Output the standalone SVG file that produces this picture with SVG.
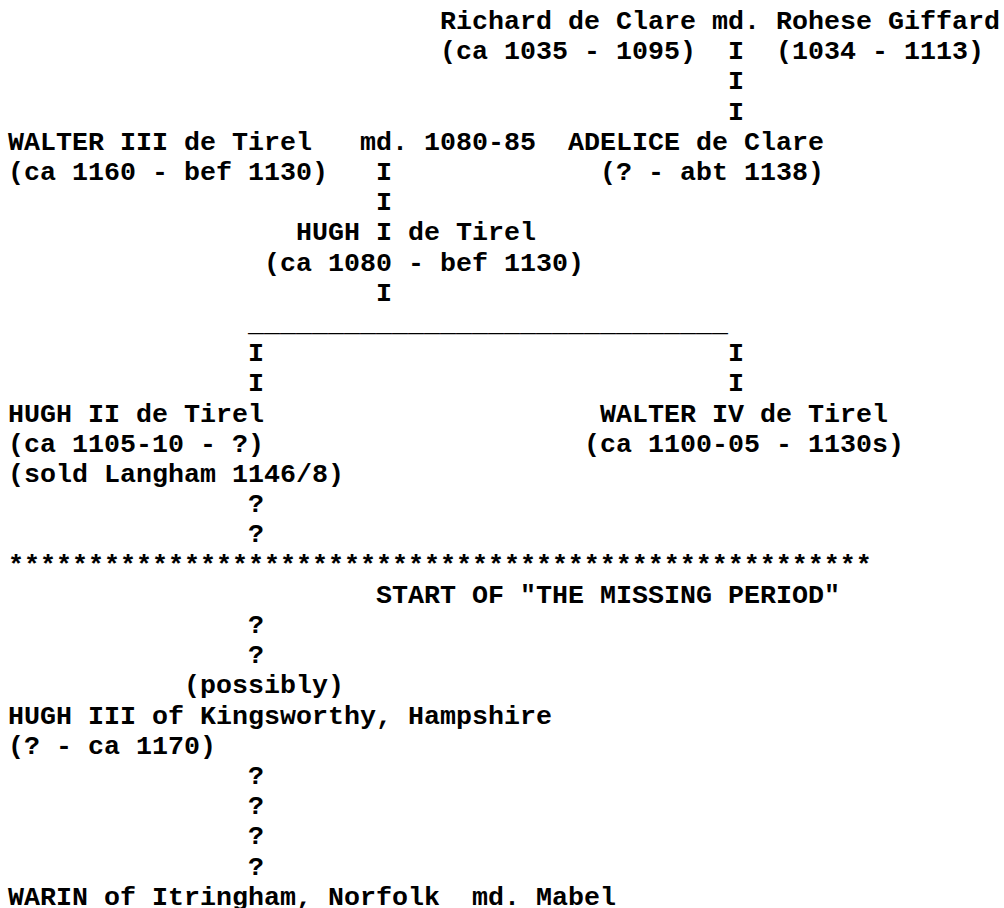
<svg xmlns="http://www.w3.org/2000/svg" width="1004" height="908" viewBox="0 0 1004 908">
<style>
text{font-family:"Liberation Mono","Courier New",monospace;font-weight:bold;font-size:26.6667px;fill:#000;white-space:pre}
</style>
<rect width="1004" height="908" fill="#fff"/>
<g id="richard-rohese">
<text x="440" y="29">Richard de Clare md. Rohese Giffard</text>
<text x="440" y="59.2">(ca 1035 - 1095)</text>
<text x="776" y="59.2">(1034 - 1113)</text>
</g>
<g id="walter-iii">
<text x="8" y="149.8">WALTER III de Tirel</text>
<text x="8" y="180">(ca 1160 - bef 1130)</text>
</g>
<g id="marriage-1080">
<text x="360" y="149.8">md. 1080-85</text>
</g>
<g id="adelice">
<text x="568" y="149.8">ADELICE de Clare</text>
<text x="600" y="180">(? - abt 1138)</text>
</g>
<g id="hugh-i">
<text x="296" y="240.4">HUGH I de Tirel</text>
<text x="264" y="270.6">(ca 1080 - bef 1130)</text>
</g>
<g id="hugh-ii">
<text x="8" y="421.6">HUGH II de Tirel</text>
<text x="8" y="451.8">(ca 1105-10 - ?)</text>
<text x="8" y="482">(sold Langham 1146/8)</text>
</g>
<g id="walter-iv">
<text x="600" y="421.6">WALTER IV de Tirel</text>
<text x="584" y="451.8">(ca 1100-05 - 1130s)</text>
</g>
<g id="missing-period">
<text x="8" y="572.6">******************************************************</text>
<text x="376" y="602.8">START OF "THE MISSING PERIOD"</text>
</g>
<g id="hugh-iii">
<text x="184" y="693.4">(possibly)</text>
<text x="8" y="723.6">HUGH III of Kingsworthy, Hampshire</text>
<text x="8" y="753.8">(? - ca 1170)</text>
</g>
<g id="warin">
<text x="8" y="904.8">WARIN of Itringham, Norfolk</text>
<text x="472" y="904.8">md. Mabel</text>
</g>
<g id="connectors">
<text x="728" y="59.2">I</text>
<text x="728" y="89.4">I</text>
<text x="728" y="119.6">I</text>
<text x="376" y="180">I</text>
<text x="376" y="210.2">I</text>
<text x="376" y="300.8">I</text>
<text x="248" y="331">______________________________</text>
<text x="248" y="361.2">I</text>
<text x="728" y="361.2">I</text>
<text x="248" y="391.4">I</text>
<text x="728" y="391.4">I</text>
<text x="248" y="512.2">?</text>
<text x="248" y="542.4">?</text>
<text x="248" y="633">?</text>
<text x="248" y="663.2">?</text>
<text x="248" y="784">?</text>
<text x="248" y="814.2">?</text>
<text x="248" y="844.4">?</text>
<text x="248" y="874.6">?</text>
</g>
</svg>
